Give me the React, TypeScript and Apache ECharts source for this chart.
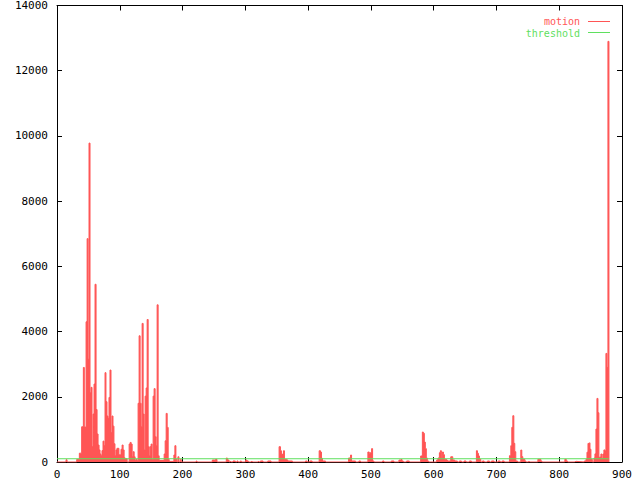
import { useEffect, useRef } from "react";
import * as echarts from "echarts";

// x range / ticks
const xMin = 0;
const xMax = 900;
const xInterval = 100;
const yMin = 0;
const yMax = 14000;
const yInterval = 2000;

const thresholdValue = 100;
const thresholdSpan = [0, 879];

// motion readings: [x where the value starts, value]; each value holds until the next x
const motionEarly: [number, number][] = [
  [0, 0], [14.4, 70], [16, 0], [31.4, 80], [35.6, 270], [37.8, 250], [39.3, 1080],
  [42, 2900], [43.5, 1070], [46.3, 4300], [48, 6850], [49.5, 3150], [51, 9780],
  [52.6, 2120], [54.2, 2290], [55.8, 470], [57.4, 1470], [59, 2390], [60.6, 5450],
  [62.2, 1610], [63.8, 860], [65.4, 520], [67, 370], [68.5, 245], [70, 190],
  [71.7, 350], [73.3, 640], [74.9, 500], [76.5, 2740], [78, 1850], [79.6, 1410],
  [81.2, 1340], [82.8, 1980], [84.4, 2820], [86, 900], [87.6, 1410], [89.2, 1100],
  [90.7, 560], [92.3, 190], [93.9, 370], [95.5, 420], [97, 420], [98.6, 220],
  [100.5, 215], [102, 390], [103.7, 520], [105.3, 370], [106.9, 130], [108.4, 100],
  [111.7, 0], [114.9, 550], [116.5, 600], [118.1, 550], [119.7, 160], [121.3, 315],
  [122.9, 160], [124.4, 50], [126, 80], [127.6, 40], [129.2, 1800], [130.8, 3870],
  [132.4, 1800], [134, 1080], [135.6, 4250], [137.2, 1470], [138.8, 370], [140.4, 2020],
  [142, 2270], [143.6, 4370], [145.2, 470], [146.8, 190], [148.3, 470], [149.9, 550],
  [151.5, 80], [153.1, 2020], [154.7, 2250], [156.3, 775], [157.9, 500], [159.5, 4820],
  [161.1, 190], [162.7, 50], [170.7, 245], [172.3, 650], [173.9, 1490], [175.5, 1060],
  [177.1, 80], [178.7, 20], [186.2, 215], [187.8, 500], [189.4, 80], [191, 0],
  [192.6, 160], [194.2, 0], [196.3, 80], [197.9, 0],
];

const motionMid: [number, number][] = [
  [221.8, 31], [223, 0], [247.4, 61], [251, 40], [252.6, 82], [254.8, 0],
  [269.7, 123], [271.3, 61], [274, 0], [276.1, 31], [277.2, 0], [280.4, 31], [284.1, 0],
  [286.7, 31], [288.3, 0], [292, 31], [293.6, 0], [300.6, 61], [302.7, 31], [304.8, 0],
  [310.1, 31], [311.2, 0], [320.8, 31], [321.8, 0], [324, 31], [328.2, 0], [335.7, 31],
  [341, 0], [353.8, 470], [355.9, 345], [357.5, 214], [359.1, 245], [360.7, 345],
  [362.3, 82], [365.5, 61], [367.6, 31], [375, 0], [395.8, 31], [398.5, 0], [402.7, 31],
  [406.4, 0], [417.6, 345], [419.7, 306], [421.3, 113], [422.9, 31], [427.7, 0],
  [464.4, 123], [467.6, 214], [469.2, 31], [475.5, 0], [480.9, 31], [483.5, 0],
  [495.2, 306], [497.4, 245], [499.5, 290], [501.1, 410], [502.7, 31], [504.8, 0],
  [518.6, 31], [520.8, 0], [532.5, 31], [536.7, 0], [544.7, 61], [546.8, 82],
  [549.5, 31], [551.6, 0], [556.9, 31], [561.2, 0], [579.3, 185], [582, 920],
  [583.5, 880], [585.1, 610], [586.7, 410], [588.3, 123], [589.9, 31], [592, 0],
  [604.8, 61], [606.9, 123], [609.1, 285], [610.7, 345], [612.3, 123], [613.9, 306],
  [615.5, 225], [617.1, 82], [619.2, 61], [621.8, 31], [627.2, 160], [630.4, 61],
  [633.5, 31], [637.8, 0], [641, 31], [644.2, 0], [648.4, 31], [651.6, 0], [657, 31],
  [660.1, 0], [668.1, 345], [669.7, 265], [671.3, 185], [672.9, 82], [675, 0],
  [677.7, 31], [680.4, 0], [685.7, 31], [688.9, 0], [692.1, 31], [696.3, 0],
  [702.7, 31], [705.9, 0], [709.1, 31], [712.3, 0],
];

const motionLate: [number, number][] = [
  [720.7, 194], [722.9, 500], [724.5, 1062], [726.1, 1419], [727.7, 572], [729.2, 316],
  [730.8, 31], [733.5, 0], [738.8, 367], [740.4, 163], [742, 82], [745.2, 31], [746.8, 0],
  [751.6, 31], [752.7, 0], [766, 82], [770.7, 31], [772.3, 0], [809, 82], [811.2, 31],
  [813.3, 0], [824, 20], [827.1, 0], [839.9, 31], [842.6, 82], [844.2, 300], [845.8, 570],
  [847.4, 590], [849, 390], [850.5, 82], [852.7, 0], [855.3, 120], [856.9, 250],
  [858.5, 1010], [860.1, 1950], [861.7, 1510], [863.2, 145], [864.8, 160], [866.4, 245],
  [868, 110], [869.6, 245], [871.2, 370], [872.8, 340], [874.4, 3330], [876, 2900],
  [877.6, 12900], [879.2, 0],
];

const legendNames = ["motion", "threshold"];
const RED = "#ff5555";
const GREEN = "#5fe05f";
const FONT = "DejaVu Sans Mono";

export default function App() {
  const ref = useRef<HTMLDivElement>(null);

  useEffect(() => {
    if (!ref.current) return;
    const chart = echarts.init(ref.current, null, { renderer: "svg" });
    const motionData = [...motionEarly, ...motionMid, ...motionLate];

    const axisLine = { show: true, onZero: false, lineStyle: { color: "#000", width: 1 } };
    const tick = { show: true, inside: true, length: 5, lineStyle: { color: "#000", width: 1 } };
    const label = {
      color: "#000", fontFamily: FONT, fontSize: 11,
      formatter: (v: number) => String(v),
    };

    chart.setOption({
      animation: false,
      backgroundColor: "#fff",
      grid: { left: 57, right: 18, top: 5, bottom: 18, containLabel: false },
      xAxis: [
        {
          type: "value", min: xMin, max: xMax, interval: xInterval, position: "bottom",
          axisLine, axisTick: tick, axisLabel: { ...label, margin: 7 }, splitLine: { show: false },
        },
        {
          type: "value", min: xMin, max: xMax, interval: xInterval, position: "top",
          axisLine, axisTick: tick, axisLabel: { show: false }, splitLine: { show: false },
        },
      ],
      yAxis: [
        {
          type: "value", min: yMin, max: yMax, interval: yInterval, position: "left",
          axisLine, axisTick: tick, axisLabel: { ...label, margin: 9 }, splitLine: { show: false },
        },
        {
          type: "value", min: yMin, max: yMax, interval: yInterval, position: "right",
          axisLine, axisTick: tick, axisLabel: { show: false }, splitLine: { show: false },
        },
      ],
      series: [
        {
          name: legendNames[0], type: "line", xAxisIndex: 0, yAxisIndex: 0,
          data: motionData, step: "end", symbol: "none", showSymbol: false,
          lineStyle: { color: RED, width: 1 }, itemStyle: { color: RED },
          areaStyle: { color: RED, opacity: 1 },
        },
        {
          name: legendNames[1], type: "line", xAxisIndex: 0, yAxisIndex: 0,
          data: thresholdSpan.map((x) => [x, thresholdValue]), symbol: "none", showSymbol: false,
          lineStyle: { color: GREEN, width: 1 }, itemStyle: { color: GREEN },
        },
      ],
      graphic: [
        {
          type: "text", x: 580, y: 21,
          style: {
            text: legendNames[0], fill: RED, fontFamily: FONT, fontSize: 10, lineHeight: 10,
            textAlign: "right", textVerticalAlign: "middle",
          },
        },
        { type: "line", shape: { x1: 588, y1: 21.5, x2: 610, y2: 21.5 }, style: { stroke: RED, lineWidth: 1 } },
        {
          type: "text", x: 580, y: 33.5,
          style: {
            text: legendNames[1], fill: GREEN, fontFamily: FONT, fontSize: 10, lineHeight: 10,
            textAlign: "right", textVerticalAlign: "middle",
          },
        },
        { type: "line", shape: { x1: 588, y1: 32.5, x2: 610, y2: 32.5 }, style: { stroke: GREEN, lineWidth: 1 } },
      ],
    });

    return () => chart.dispose();
  }, []);

  return (
    <div
      ref={ref}
      style={{ position: "fixed", left: 0, top: 0, width: 640, height: 480, background: "#fff" }}
    />
  );
}
